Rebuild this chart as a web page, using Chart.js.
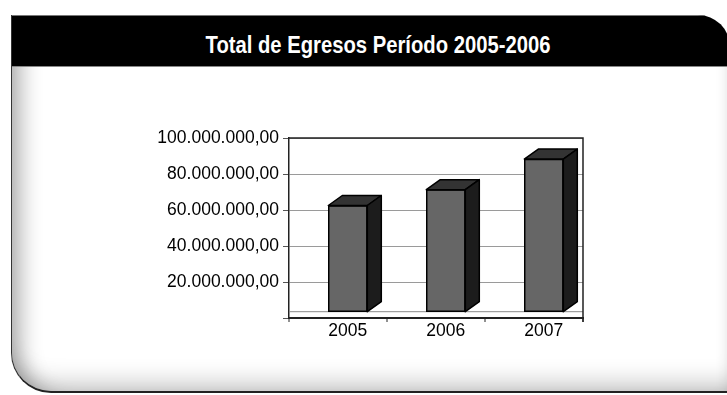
<!DOCTYPE html>
<html>
<head>
<meta charset="utf-8">
<script src="https://cdn.jsdelivr.net/npm/chart.js@4.4.1/dist/chart.umd.min.js"></script>
<style>
  html, body { margin: 0; padding: 0; background: #fff; width: 727px; height: 395px; overflow: hidden; }
  #panel {
    position: absolute; left: 11px; top: 15px; width: 718px; height: 376px;
    background: #fff;
    border-left: 1px solid #333; border-bottom: 2px solid #222;
    border-radius: 0 32px 0 40px;
    box-shadow: inset 22px 0 22px -14px rgba(0,0,0,0.33),
                inset 0 -24px 24px -16px rgba(0,0,0,0.22),
                inset -12px 0 14px -10px rgba(0,0,0,0.12);
    overflow: hidden;
  }
  #header {
    position: absolute; left: 0; top: 0; right: 0; height: 52px;
    background: #000; border-top: 1px solid #777; border-bottom: 1px solid #888;
    text-align: center; box-sizing: border-box; padding-left: 15px;
  }
  #header span {
    display: inline-block; margin-top: 16px;
    color: #fff; font-family: "Liberation Sans", Arial, sans-serif;
    font-weight: bold; font-size: 23px; line-height: 26px;
    transform: scaleX(0.88); transform-origin: center;
  }
  #chart { position: absolute; left: 0; top: 0; }
</style>
</head>
<body>
<div id="panel"><div id="header"><span>Total de Egresos Período 2005-2006</span></div></div>
<canvas id="chart" width="727" height="395"></canvas>
<script>
// Datos
var categories = ["2005", "2006", "2007"];
var egresos = [62500000, 71300000, 88300000];
var yTickValues = [0, 20000000, 40000000, 60000000, 80000000, 100000000];

// 100000000 -> "100.000.000,00"
function formatMonto(v) {
    var s = Math.round(v).toString().replace(/\B(?=(\d{3})+(?!\d))/g, ".");
    return s + ",00";
}

// Caras superior y lateral de las barras (efecto 3D)
var bars3d = {
    id: "bars3d",
    beforeDatasetsDraw: function(chart) {
        var ctx = chart.ctx, a = chart.chartArea, ys = chart.scales.y;
        ctx.save();
        // piso
        var yf = ys.getPixelForValue(chart.data.datasets[0].base);
        ctx.strokeStyle = "#8a8a8a";
        ctx.lineWidth = 1;
        ctx.beginPath();
        ctx.moveTo(a.left, yf); ctx.lineTo(a.right, yf);
        ctx.stroke();
        // marco
        ctx.strokeStyle = "#222";
        ctx.lineWidth = 1.5;
        ctx.beginPath();
        ctx.moveTo(a.left, a.top); ctx.lineTo(a.right, a.top); ctx.lineTo(a.right, a.bottom + 4);
        ctx.stroke();
        // marcas del eje x
        ctx.lineWidth = 1;
        var n = categories.length;
        for (var k = 0; k <= n; k++) {
            var x = a.left + k * (a.right - a.left) / n;
            ctx.beginPath();
            ctx.moveTo(x, a.bottom); ctx.lineTo(x, a.bottom + 4);
            ctx.stroke();
        }
        ctx.restore();
    },
    afterDatasetsDraw: function(chart) {
        var ctx = chart.ctx, dx = 14, dy = 10;
        var meta = chart.getDatasetMeta(0);
        ctx.save();
        ctx.lineWidth = 1.5;
        ctx.strokeStyle = "#000";
        ctx.lineJoin = "round";
        meta.data.forEach(function(bar) {
            var p = bar.getProps(["x", "y", "base", "width"], true);
            var l = p.x - p.width / 2, r = p.x + p.width / 2;
            ctx.fillStyle = "#333";
            ctx.beginPath();
            ctx.moveTo(l, p.y); ctx.lineTo(l + dx, p.y - dy);
            ctx.lineTo(r + dx, p.y - dy); ctx.lineTo(r, p.y);
            ctx.closePath(); ctx.fill(); ctx.stroke();
            ctx.fillStyle = "#1c1c1c";
            ctx.beginPath();
            ctx.moveTo(r, p.y); ctx.lineTo(r + dx, p.y - dy);
            ctx.lineTo(r + dx, p.base - dy); ctx.lineTo(r, p.base);
            ctx.closePath(); ctx.fill(); ctx.stroke();
        });
        ctx.restore();
    }
};

var ctx = document.getElementById("chart").getContext("2d");
var chart = new Chart(ctx, {
    type: "bar",
    data: {
        datasets: [{
            data: egresos.map(function(v, i) { return { x: i, y: v }; }),
            base: 3500000,
            backgroundColor: "#666666",
            borderColor: "#000",
            borderWidth: 1.5,
            borderSkipped: false,
            barThickness: 39
        }]
    },
    options: {
        responsive: false,
        animation: false,
        layout: { padding: { left: 154, top: 138, right: 144, bottom: 47 } },
        plugins: { legend: { display: false }, title: { display: false }, tooltip: { enabled: false } },
        scales: {
            x: {
                type: "linear",
                offset: false,
                min: -0.6,
                max: 2.4,
                afterBuildTicks: function(scale) {
                    scale.ticks = categories.map(function(c, i) { return { value: i }; });
                },
                afterFit: function(scale) { scale.height = 30; },
                grid: { display: false, drawTicks: false },
                border: { display: true, color: "#222", width: 2 },
                ticks: {
                    color: "#000",
                    padding: 3,
                    font: { family: "'Liberation Sans', Arial, sans-serif", size: 17.5 },
                    callback: function(v) { return categories[v]; }
                }
            },
            y: {
                min: 0,
                max: 100000000,
                afterBuildTicks: function(scale) {
                    scale.ticks = yTickValues.map(function(v) { return { value: v }; });
                },
                afterFit: function(scale) { scale.width = 135; },
                grid: { color: "#9a9a9a", lineWidth: 1, tickLength: 6, tickColor: "#555" },
                border: { display: true, color: "#222", width: 1.5 },
                ticks: {
                    color: "#000",
                    padding: 4,
                    font: { family: "'Liberation Sans', Arial, sans-serif", size: 17.5 },
                    callback: function(v) { return v === 0 ? "" : formatMonto(v); }
                }
            }
        }
    },
    plugins: [bars3d]
});
</script>
</body>
</html>
